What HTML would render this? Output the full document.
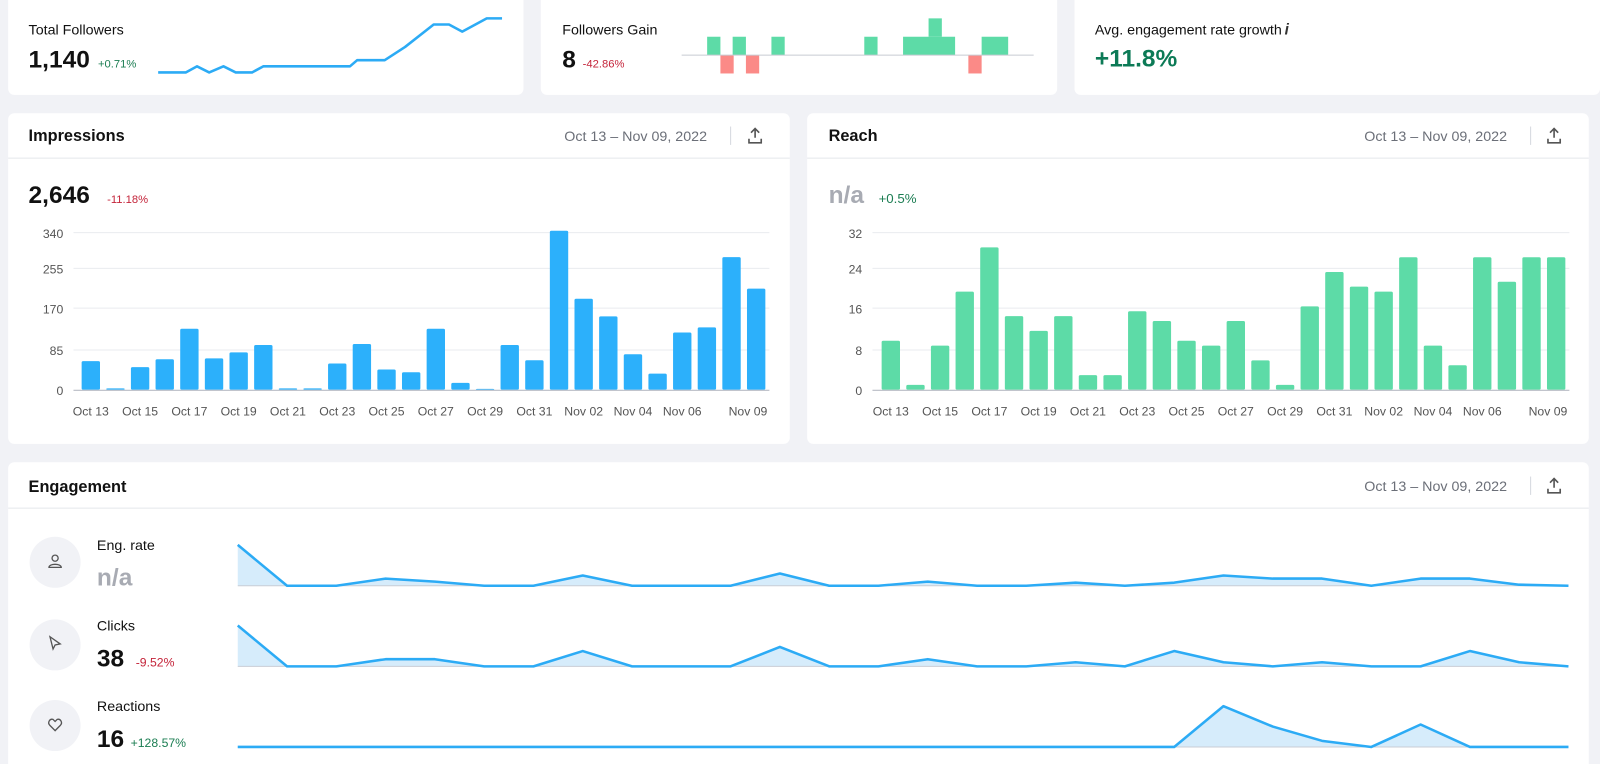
<!DOCTYPE html>
<html><head><meta charset="utf-8"><style>
body{margin:0;background:#f1f2f6;font-family:"Liberation Sans",sans-serif;}
svg{display:block}
</style></head><body>
<svg width="1600" height="764" viewBox="0 0 1568 748.7" preserveAspectRatio="none" xmlns="http://www.w3.org/2000/svg" font-family="Liberation Sans, sans-serif">
<rect width="1568" height="764" fill="#f1f2f6"/>
<!-- top cards -->
<rect x="8" y="-8" width="505" height="101" rx="6" fill="#fff"/>
<rect x="530" y="-8" width="506" height="101" rx="6" fill="#fff"/>
<rect x="1053" y="-8" width="515" height="101" rx="6" fill="#fff"/>
<text x="28" y="34" font-size="14" fill="#111">Total Followers</text>
<text x="28" y="66" font-size="24" font-weight="bold" fill="#111">1,140</text>
<text x="96" y="66" font-size="11" fill="#1b7d52">+0.71%</text>
<polyline fill="none" stroke="#2cabf5" stroke-width="2.5" stroke-linejoin="round" points="155,71 182,71 193,65 205,71 219,65 231,71 247,71 258,65 343,65 350,59 377,59 397,46 425,24 440,24 453,31 477,18 492,18"/>
<text x="551" y="34" font-size="14" fill="#111">Followers Gain</text>
<text x="551" y="66" font-size="24" font-weight="bold" fill="#111">8</text>
<text x="571" y="66" font-size="11" fill="#c4243a">-42.86%</text>
<g fill="#5ddba7">
<rect x="693" y="36" width="13" height="18"/><rect x="718" y="36" width="13" height="18"/><rect x="756" y="36" width="13" height="18"/><rect x="847" y="36" width="13" height="18"/><rect x="885" y="36" width="51" height="18"/><rect x="910" y="18" width="13" height="18"/><rect x="962" y="36" width="26" height="18"/>
</g>
<g fill="#fb8a87"><rect x="706" y="54" width="13" height="18"/><rect x="731" y="54" width="13" height="18"/><rect x="949" y="54" width="13" height="18"/></g>
<line x1="668" y1="54" x2="1013" y2="54" stroke="#c8cbd2"/>
<text x="1073" y="34" font-size="14" fill="#111">Avg. engagement rate growth</text>
<text x="1259" y="34" font-size="15" font-style="italic" font-weight="bold" fill="#333">i</text>
<text x="1073" y="65" font-size="24" font-weight="bold" fill="#0c7a56">+11.8%</text>

<!-- Impressions card -->
<rect x="8" y="111" width="766" height="324" rx="6" fill="#fff"/>
<line x1="8" y1="155" x2="774" y2="155" stroke="#e4e6eb"/>
<text x="28" y="138" font-size="16" font-weight="bold" fill="#111">Impressions</text>
<text x="553" y="138" font-size="14" fill="#6b6f78">Oct 13 – Nov 09, 2022</text>
<line x1="716" y1="124" x2="716" y2="142" stroke="#d5d8de"/>
<g stroke="#555" stroke-width="1.6" fill="none"><path d="M734 136v4h12v-4M740 135v-9M736 130l4-4 4 4"/></g>
<text x="28" y="199" font-size="24" font-weight="bold" fill="#111">2,646</text>
<text x="105" y="199" font-size="11" fill="#c4243a">-11.18%</text>
<g stroke="#e9ebef"><line x1="72" y1="228" x2="754" y2="228"/><line x1="72" y1="263" x2="754" y2="263"/><line x1="72" y1="302" x2="754" y2="302"/><line x1="72" y1="343" x2="754" y2="343"/></g>
<g font-size="12" fill="#555" text-anchor="end"><text x="62" y="233">340</text><text x="62" y="268">255</text><text x="62" y="307">170</text><text x="62" y="348">85</text><text x="62" y="387">0</text></g>
<g id="imp" fill="#2cb0fb"></g>
<line x1="72" y1="382.5" x2="754" y2="382.5" stroke="#b8bcc4"/>
<g id="impx" font-size="12" fill="#555" text-anchor="middle"></g>

<!-- Reach card -->
<rect x="791" y="111" width="766" height="324" rx="6" fill="#fff"/>
<line x1="791" y1="155" x2="1557" y2="155" stroke="#e4e6eb"/>
<text x="812" y="138" font-size="16" font-weight="bold" fill="#111">Reach</text>
<text x="1337" y="138" font-size="14" fill="#6b6f78">Oct 13 – Nov 09, 2022</text>
<line x1="1500" y1="124" x2="1500" y2="142" stroke="#d5d8de"/>
<g stroke="#555" stroke-width="1.6" fill="none"><path d="M1517 136v4h12v-4M1523 135v-9M1519 130l4-4 4 4"/></g>
<text x="812" y="199" font-size="24" font-weight="bold" fill="#a8abb3">n/a</text>
<text x="861" y="199" font-size="13" fill="#1b7d52">+0.5%</text>
<g stroke="#e9ebef"><line x1="855" y1="228" x2="1538" y2="228"/><line x1="855" y1="263" x2="1538" y2="263"/><line x1="855" y1="302" x2="1538" y2="302"/><line x1="855" y1="343" x2="1538" y2="343"/></g>
<g font-size="12" fill="#555" text-anchor="end"><text x="845" y="233">32</text><text x="845" y="268">24</text><text x="845" y="307">16</text><text x="845" y="348">8</text><text x="845" y="387">0</text></g>
<g id="rch" fill="#5ddba7"></g>
<line x1="855" y1="382.5" x2="1538" y2="382.5" stroke="#b8bcc4"/>
<g id="rchx" font-size="12" fill="#555" text-anchor="middle"></g>

<!-- Engagement -->
<rect x="8" y="453" width="1549" height="330" rx="6" fill="#fff"/>
<line x1="8" y1="498" x2="1557" y2="498" stroke="#e4e6eb"/>
<text x="28" y="482" font-size="16" font-weight="bold" fill="#111">Engagement</text>
<text x="1337" y="481" font-size="14" fill="#6b6f78">Oct 13 – Nov 09, 2022</text>
<line x1="1500" y1="467" x2="1500" y2="485" stroke="#d5d8de"/>
<g stroke="#555" stroke-width="1.6" fill="none"><path d="M1517 479v4h12v-4M1523 478v-9M1519 473l4-4 4 4"/></g>
<circle cx="54" cy="551" r="25" fill="#f1f2f6"/>
<circle cx="54" cy="632" r="25" fill="#f1f2f6"/>
<circle cx="54" cy="711" r="25" fill="#f1f2f6"/>
<g stroke="#555" stroke-width="1.3" fill="none">
<circle cx="54" cy="547" r="3"/><path d="M48 556c0-4 12-4 12 0z"/>
<path d="M49 624l10 7-5 1-2 4z"/>
<path d="M54 716l-5-5c-3-3 0-7 3-6l2 2 2-2c3-1 6 3 3 6z"/>
</g>
<text x="95" y="539" font-size="14" fill="#111">Eng. rate</text>
<text x="95" y="574" font-size="24" font-weight="bold" fill="#a8abb3">n/a</text>
<text x="95" y="618" font-size="14" fill="#111">Clicks</text>
<text x="95" y="653" font-size="24" font-weight="bold" fill="#111">38</text>
<text x="133" y="653" font-size="12" fill="#c4243a">-9.52%</text>
<text x="95" y="697" font-size="14" fill="#111">Reactions</text>
<text x="95" y="732" font-size="24" font-weight="bold" fill="#111">16</text>
<text x="128" y="732" font-size="12" fill="#1b7d52">+128.57%</text>
<g id="eng"></g>
</svg>
<script>
var NS="http://www.w3.org/2000/svg";
function el(p,t,a,txt){var e=document.createElementNS(NS,t);for(var k in a)e.setAttribute(k,a[k]);if(txt)e.textContent=txt;document.getElementById(p).appendChild(e);}
var imp=[62,3,49,66,132,68,81,97,3,3,57,99,44,38,132,15,2,97,64,344,197,159,77,35,124,135,287,219];
var rch=[10,1,9,20,29,15,12,15,3,3,16,14,10,9,14,6,1,17,24,21,20,27,9,5,27,22,27,27];
var lab=["Oct 13","Oct 15","Oct 17","Oct 19","Oct 21","Oct 23","Oct 25","Oct 27","Oct 29","Oct 31","Nov 02","Nov 04","Nov 06"];
var sp=24.15;
for(var i=0;i<28;i++){
 var cx=89+i*sp,h=imp[i]*154/340;
 el("imp","rect",{x:cx-9,y:382-h,width:18,height:h,rx:1.5});
 var cx2=873+i*sp,h2=rch[i]*154/32;
 el("rch","rect",{x:cx2-9,y:382-h2,width:18,height:h2,rx:1.5});
}
for(var j=0;j<13;j++){el("impx","text",{x:89+j*2*sp,y:407},lab[j]);el("rchx","text",{x:873+j*2*sp,y:407},lab[j]);}
el("impx","text",{x:733,y:407},"Nov 09");el("rchx","text",{x:1517,y:407},"Nov 09");
var er=[534,574,574,567,570,574,574,564,574,574,574,562,574,574,570,574,574,571,574,571,564,567,567,574,567,567,573,574];
var cl=[613,653,653,646,646,653,653,638,653,653,653,634,653,653,646,653,653,649,653,638,649,653,649,653,653,638,649,653];
var re=[];for(var k=0;k<28;k++)re.push(732);re[20]=692;re[21]=712;re[22]=726;re[24]=710;
function line(d,base){var pts=[];for(var i=0;i<28;i++)pts.push((233+i*48.3).toFixed(1)+","+d[i]);
 el("eng","polygon",{points:"233,"+base+" "+pts.join(" ")+" 1537,"+base,fill:"#d6ecfb"});
 el("eng","line",{x1:233,y1:base,x2:1537,y2:base,stroke:"#c8cdd6"});
 el("eng","polyline",{points:pts.join(" "),fill:"none",stroke:"#2cabf5","stroke-width":2.5,"stroke-linejoin":"round"});}
line(er,574);line(cl,653);line(re,732);
</script>
</body></html>
